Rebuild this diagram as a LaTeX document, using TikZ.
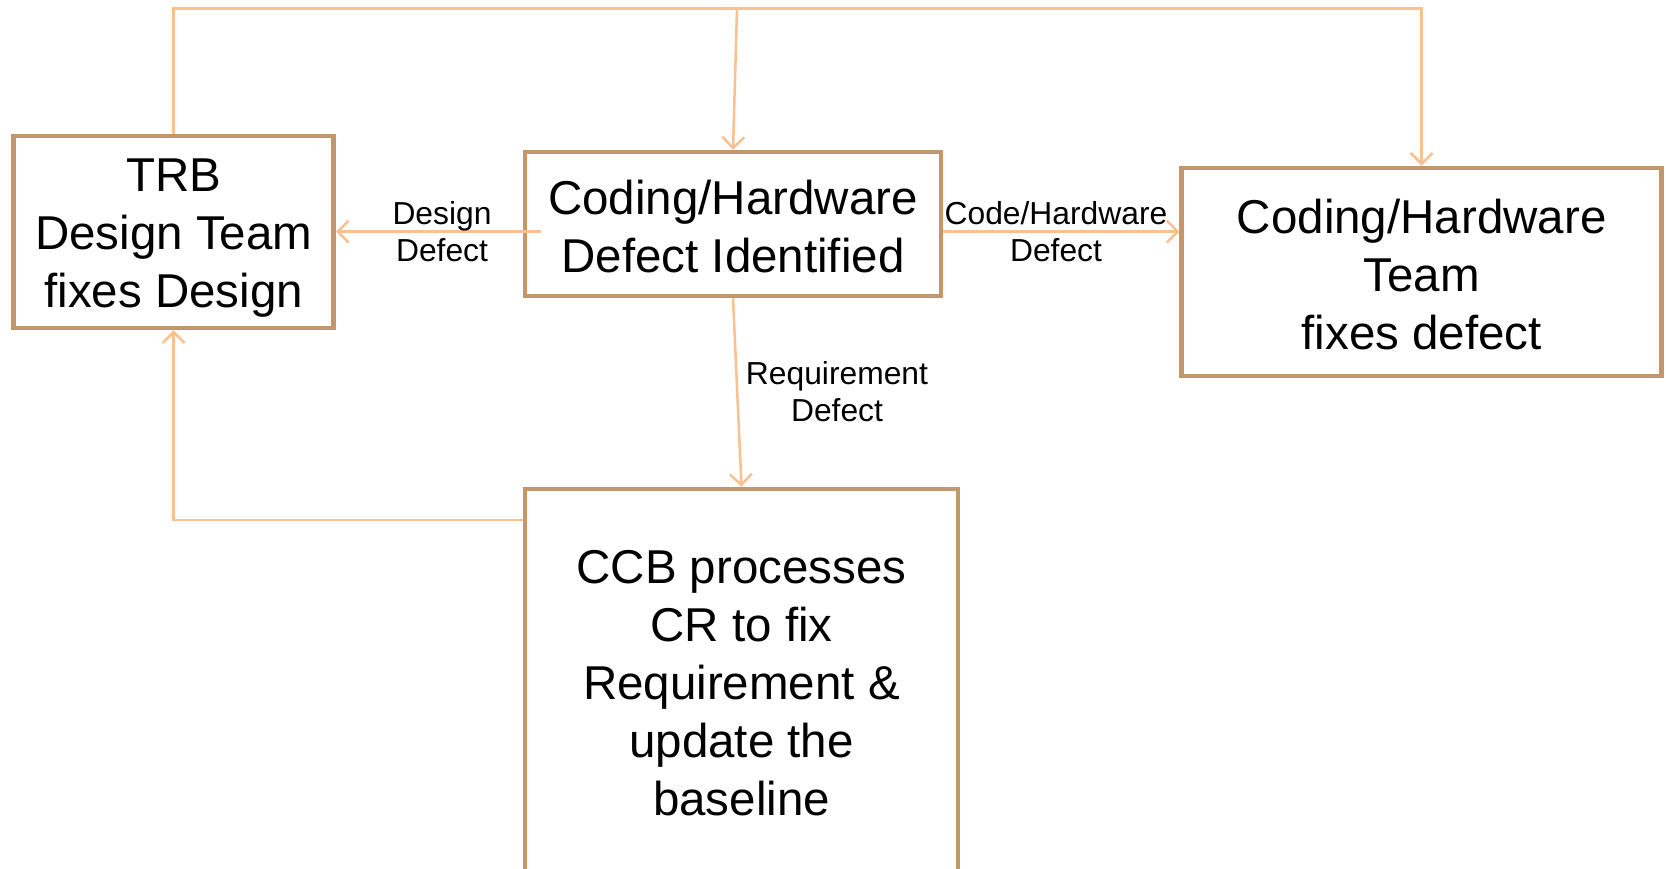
\documentclass[tikz,border=0pt]{standalone}
\usepackage{fontspec}
\setmainfont{Liberation Sans}
\usetikzlibrary{arrows.meta,calc}
\definecolor{boxtan}{RGB}{195,150,108}
\definecolor{connpeach}{RGB}{250,192,144}
\begin{document}
\begin{tikzpicture}[x=1pt,y=-1pt,
  box/.style={draw=boxtan,line width=4.5pt,fill=white,inner sep=0pt,align=center,
    font=\fontsize{47.5}{58}\selectfont},
  conn/.style={draw=connpeach,line width=2.5pt},
  tip/.style={-{Straight Barb[length=11pt,width=22pt]}},
  lbl/.style={align=center,inner sep=0pt,font=\fontsize{31.8}{37}\selectfont}]
\useasboundingbox (0,0) rectangle (1666,869);
\node[box,minimum width=320pt,minimum height=192pt] (trb) at (173.7,232) {\rule{0pt}{45pt}TRB\\Design Team\\fixes Design};
\node[box,minimum width=416pt,minimum height=144pt] (cbox) at (733,224) {\rule{0pt}{39pt}Coding/Hardware\\Defect Identified};
\node[box,minimum width=480pt,minimum height=208pt] (rbox) at (1421.7,272) {\rule{0pt}{39pt}Coding/Hardware\\Team\\fixes defect};
\node[box,minimum width=433pt,minimum height=388pt] (ccb) at (741.5,683) {CCB processes\\CR to fix\\Requirement \&\\update the\\baseline};
\coordinate (tr) at (1421.7,8.5);
\coordinate (tm) at (737,8.5);
\coordinate (cy) at (0,231.6);
\coordinate (dstart) at (541,231.6);
\coordinate (cc) at (0,520);
\draw[conn,tip] (trb.north) |- (tr) -- (rbox.north);
\draw[conn,tip] (tm) -- (cbox.north);
\draw[conn,tip] (dstart) -- (trb.east |- cy);
\draw[conn,tip] (cbox.east |- cy) -- (rbox.west |- cy);
\draw[conn,tip] (cbox.south) -- (ccb.north);
\draw[conn,tip] (ccb.west |- cc) -| (trb.south);
\node[lbl] (l1) at (442,232) {Design\\Defect};
\node[lbl] (l2) at (1056,232) {Code/Hardware\\Defect};
\node[lbl] (l3) at (837,391.5) {Requirement\\Defect};
\end{tikzpicture}
\end{document}
